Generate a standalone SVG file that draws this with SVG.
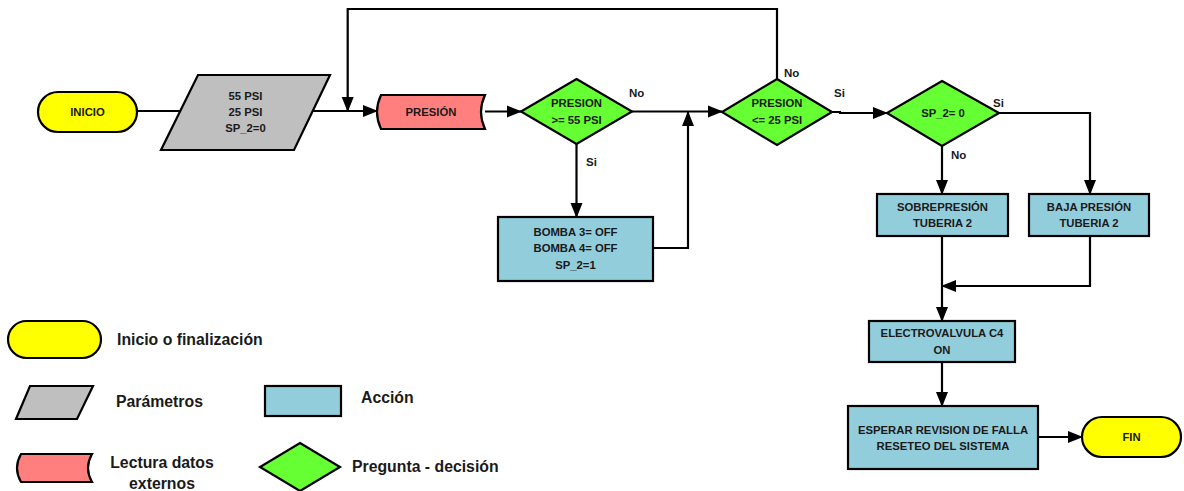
<svg xmlns="http://www.w3.org/2000/svg" width="1184" height="491" viewBox="0 0 1184 491">
<style>
.sh{stroke:#000;stroke-width:2.2;stroke-linejoin:miter}
.term{fill:#FFFF00}
.par{fill:#BFBFBF}
.rd{fill:#FF7F7F}
.dec{fill:#66FF33}
.act{fill:#92CDDC}
.t{font-family:"Liberation Sans",Arial,sans-serif;font-weight:bold;font-size:11.3px;fill:#1a1a1a;text-anchor:middle}
.lbl{font-family:"Liberation Sans",Arial,sans-serif;font-weight:bold;font-size:11.5px;fill:#1a1a1a}
.leg{font-family:"Liberation Sans",Arial,sans-serif;font-weight:bold;font-size:15.8px;fill:#1a1a1a}
.c{fill:none;stroke:#000;stroke-width:2.2}
.ca{fill:none;stroke:#000;stroke-width:2.2;marker-end:url(#ah)}
</style>
<defs>
<marker id="ah" markerUnits="userSpaceOnUse" markerWidth="15" markerHeight="15" viewBox="0 0 15 15" refX="14" refY="7.5" orient="auto">
<path d="M0,1.5 L15,7.5 L0,13.5 Z" fill="#000"/>
</marker>
</defs>

<g id="connectors">
<path class="c" d="M137,111 H180"/>
<path class="ca" d="M313,111 H377"/>
<path class="ca" d="M777,79 V9 H347.7 V111"/>
<path class="ca" d="M485,111.5 H521"/>
<path class="ca" d="M632,111.5 H722"/>
<path class="ca" d="M576.5,144 V217"/>
<path class="ca" d="M653,248 H688 V112"/>
<path class="ca" d="M832,112 H840 V113 H887"/>
<path class="ca" d="M999,113 H1090 V194"/>
<path class="ca" d="M942,146 V194"/>
<path class="ca" d="M942,236 V321"/>
<path class="ca" d="M1090,236 V286 H942"/>
<path class="ca" d="M942,362 V406"/>
<path class="ca" d="M1038,437 H1082"/>
<text class="lbl" x="629" y="97">No</text>
<text class="lbl" x="586" y="166">Si</text>
<text class="lbl" x="784" y="77">No</text>
<text class="lbl" x="834" y="97">Si</text>
<text class="lbl" x="993" y="107">Si</text>
<text class="lbl" x="951" y="159">No</text>
</g>

<g id="inicio">
<rect class="sh term" x="38" y="92" width="99" height="40" rx="20"/>
<text class="t" x="87.5" y="116">INICIO</text>
</g>

<g id="parametros">
<polygon class="sh par" points="198,75 330,75 294,150 161,150"/>
<text class="t" x="245.5" y="100">55 PSI</text>
<text class="t" x="245.5" y="116">25 PSI</text>
<text class="t" x="245.5" y="132">SP_2=0</text>
</g>

<g id="presion">
<path class="sh rd" d="M381,95 L485,95 Q477,112 485,129 L381,129 Q373,112 381,95 Z"/>
<text class="t" x="431" y="116">PRESIÓN</text>
</g>

<g id="dec1">
<polygon class="sh dec" points="576.5,79 632,111.5 576.5,144 521,111.5"/>
<text class="t" x="576.5" y="107">PRESION</text>
<text class="t" x="576.5" y="124">&gt;= 55 PSI</text>
</g>

<g id="bomba">
<rect class="sh act" x="498" y="217" width="155" height="64"/>
<text class="t" x="575.5" y="236">BOMBA 3= OFF</text>
<text class="t" x="575.5" y="252">BOMBA 4= OFF</text>
<text class="t" x="575.5" y="269">SP_2=1</text>
</g>

<g id="dec2">
<polygon class="sh dec" points="777,79 832,112 777,145 722,112"/>
<text class="t" x="777" y="107">PRESION</text>
<text class="t" x="777" y="124">&lt;= 25 PSI</text>
</g>

<g id="dec3">
<polygon class="sh dec" points="942,81 999,113 942,146 887,113"/>
<text class="t" x="943" y="117">SP_2= 0</text>
</g>

<g id="sobrepresion">
<rect class="sh act" x="877" y="194" width="131" height="42"/>
<text class="t" x="942.5" y="211">SOBREPRESIÓN</text>
<text class="t" x="942.5" y="227">TUBERIA 2</text>
</g>

<g id="bajapresion">
<rect class="sh act" x="1029" y="194" width="120" height="42"/>
<text class="t" x="1089" y="211">BAJA PRESIÓN</text>
<text class="t" x="1089" y="227">TUBERIA 2</text>
</g>

<g id="electrovalvula">
<rect class="sh act" x="869" y="321" width="146" height="41"/>
<text class="t" x="942" y="337">ELECTROVALVULA C4</text>
<text class="t" x="942" y="354">ON</text>
</g>

<g id="esperar">
<rect class="sh act" x="848" y="406" width="190" height="63"/>
<text class="t" x="943" y="434">ESPERAR REVISION DE FALLA</text>
<text class="t" x="943" y="450">RESETEO DEL SISTEMA</text>
</g>

<g id="fin">
<rect class="sh term" x="1082" y="417" width="99" height="40" rx="20"/>
<text class="t" x="1131.5" y="441">FIN</text>
</g>

<g id="legend">
<rect class="sh term" x="8" y="321" width="93" height="37" rx="18.5"/>
<text class="leg" x="117" y="345">Inicio o finalización</text>
<polygon class="sh par" points="30,386 93,386 77,419 16,419"/>
<text class="leg" x="116" y="407">Parámetros</text>
<path class="sh rd" d="M21,454 L92,454 Q84,468 92,482 L21,482 Q13,468 21,454 Z"/>
<text class="leg" x="162" y="468" text-anchor="middle">Lectura datos</text>
<text class="leg" x="162" y="489" text-anchor="middle">externos</text>
<rect class="sh act" x="265" y="386" width="76" height="30"/>
<text class="leg" x="361" y="403">Acción</text>
<polygon class="sh dec" points="300,443 340,467 300,491 260,467"/>
<text class="leg" x="352" y="472">Pregunta - decisión</text>
</g>
</svg>
